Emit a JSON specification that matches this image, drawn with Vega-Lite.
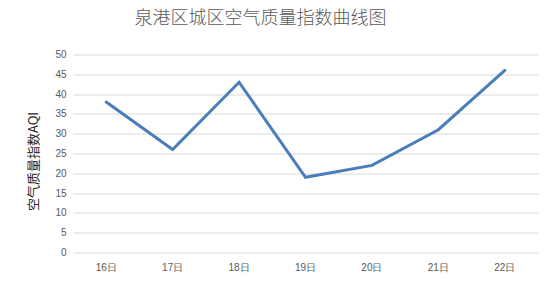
{
  "$schema": "https://vega.github.io/schema/vega-lite/v6.json",
  "width": 465,
  "height": 198,
  "autosize": {"type": "none"},
  "padding": {"left": 73, "top": 54.5, "right": 18, "bottom": 55.5},
  "background": "white",
  "title": {
    "text": "泉港区城区空气质量指数曲线图",
    "font": "Noto Sans CJK SC",
    "fontWeight": 300,
    "fontSize": 18,
    "color": "#595959",
    "anchor": "middle",
    "dx": -45,
    "offset": 22
  },
  "data": {
    "values": [
      {"day": "16日", "aqi": 38},
      {"day": "17日", "aqi": 26},
      {"day": "18日", "aqi": 43},
      {"day": "19日", "aqi": 19},
      {"day": "20日", "aqi": 22},
      {"day": "21日", "aqi": 31},
      {"day": "22日", "aqi": 46}
    ]
  },
  "mark": {"type": "line", "color": "#4a7ebb", "strokeWidth": 3, "strokeCap": "round"},
  "encoding": {
    "x": {
      "field": "day",
      "type": "ordinal",
      "sort": null,
      "scale": {"type": "band", "paddingInner": 0, "paddingOuter": 0},
      "axis": {
        "title": null,
        "labelAngle": 0,
        "labelFont": "Liberation Sans",
        "labelFontSize": 10,
        "labelColor": "#595959",
        "labelPadding": 10,
        "ticks": false,
        "domain": false,
        "grid": false
      }
    },
    "y": {
      "field": "aqi",
      "type": "quantitative",
      "scale": {"domain": [0, 50], "nice": false},
      "axis": {
        "title": "空气质量指数AQI",
        "titleFont": "Noto Sans CJK SC",
        "titleFontSize": 13,
        "titleFontWeight": "normal",
        "titleColor": "#262626",
        "titlePadding": 14,
        "titleY": 106.5,
        "values": [0, 5, 10, 15, 20, 25, 30, 35, 40, 45, 50],
        "labelFont": "Liberation Sans",
        "labelFontSize": 10,
        "labelColor": "#595959",
        "labelPadding": 7,
        "ticks": false,
        "domain": false,
        "gridColor": "#d9d9d9",
        "gridWidth": 1
      }
    }
  },
  "config": {"view": {"stroke": null}}
}
